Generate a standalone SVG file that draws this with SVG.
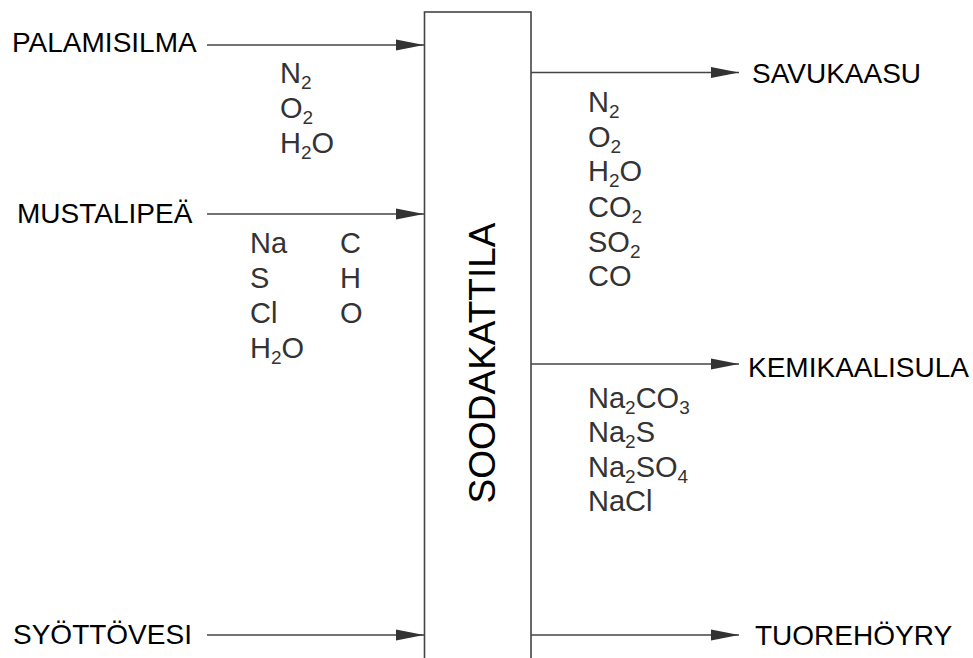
<svg xmlns="http://www.w3.org/2000/svg" width="973" height="658" viewBox="0 0 973 658">
<style>
.lbl{font-family:"Liberation Sans",Arial,sans-serif;font-size:28px;fill:#000}
.f{font-family:"Liberation Sans",Arial,sans-serif;font-size:29px;fill:#333}
.s{font-size:19px}
.c{stroke:#444;stroke-width:1.6;fill:none}
.box{stroke:#444;stroke-width:1.6;fill:#fff}
.title{font-family:"Liberation Sans",Arial,sans-serif;font-size:37px;fill:#000}
</style>
<defs>
<marker id="ah" markerUnits="userSpaceOnUse" markerWidth="28" markerHeight="12" refX="28" refY="6" orient="auto">
<path d="M0,0.5 L28,6 L0,11.5 Z" fill="#333"/>
</marker>
</defs>
<g id="soodakattila">
<rect class="box" x="424.5" y="12" width="106.5" height="660"/>
<text class="title" transform="translate(495,363) rotate(-90)" text-anchor="middle">SOODAKATTILA</text>
</g>
<g id="connectors">
<line class="c" x1="207" y1="45" x2="424" y2="45" marker-end="url(#ah)"/>
<line class="c" x1="207" y1="214" x2="424" y2="214" marker-end="url(#ah)"/>
<line class="c" x1="207" y1="635" x2="424" y2="635" marker-end="url(#ah)"/>
<line class="c" x1="531" y1="72.5" x2="739" y2="72.5" marker-end="url(#ah)"/>
<line class="c" x1="531" y1="364" x2="739" y2="364" marker-end="url(#ah)"/>
<line class="c" x1="531" y1="635" x2="739" y2="635" marker-end="url(#ah)"/>
</g>
<g id="palamisilma">
<text class="lbl" x="12" y="52">PALAMISILMA</text>
<text class="f" x="280" y="83">N<tspan class="s" dy="6">2</tspan></text>
<text class="f" x="280" y="118">O<tspan class="s" dy="6">2</tspan></text>
<text class="f" x="280" y="153">H<tspan class="s" dy="6">2</tspan><tspan dy="-6">O</tspan></text>
</g>
<g id="mustalipea">
<text class="lbl" x="17" y="223">MUSTALIPEÄ</text>
<text class="f" x="250" y="253">Na</text>
<text class="f" x="250" y="288">S</text>
<text class="f" x="250" y="323">Cl</text>
<text class="f" x="250" y="358">H<tspan class="s" dy="6">2</tspan><tspan dy="-6">O</tspan></text>
<text class="f" x="340" y="253">C</text>
<text class="f" x="340" y="288">H</text>
<text class="f" x="340" y="323">O</text>
</g>
<g id="syottovesi">
<text class="lbl" x="13" y="644">SYÖTTÖVESI</text>
</g>
<g id="savukaasu">
<text class="lbl" x="752" y="83">SAVUKAASU</text>
<text class="f" x="588" y="112">N<tspan class="s" dy="6">2</tspan></text>
<text class="f" x="588" y="147">O<tspan class="s" dy="6">2</tspan></text>
<text class="f" x="588" y="181">H<tspan class="s" dy="6">2</tspan><tspan dy="-6">O</tspan></text>
<text class="f" x="588" y="217">CO<tspan class="s" dy="6">2</tspan></text>
<text class="f" x="588" y="252">SO<tspan class="s" dy="6">2</tspan></text>
<text class="f" x="588" y="286">CO</text>
</g>
<g id="kemikaalisula">
<text class="lbl" x="748" y="377">KEMIKAALISULA</text>
<text class="f" x="588" y="408">Na<tspan class="s" dy="6">2</tspan><tspan dy="-6">CO</tspan><tspan class="s" dy="6">3</tspan></text>
<text class="f" x="588" y="442">Na<tspan class="s" dy="6">2</tspan><tspan dy="-6">S</tspan></text>
<text class="f" x="588" y="477">Na<tspan class="s" dy="6">2</tspan><tspan dy="-6">SO</tspan><tspan class="s" dy="6">4</tspan></text>
<text class="f" x="588" y="511">NaCl</text>
</g>
<g id="tuorehoyry">
<text class="lbl" x="755" y="645">TUOREHÖYRY</text>
</g>
</svg>
